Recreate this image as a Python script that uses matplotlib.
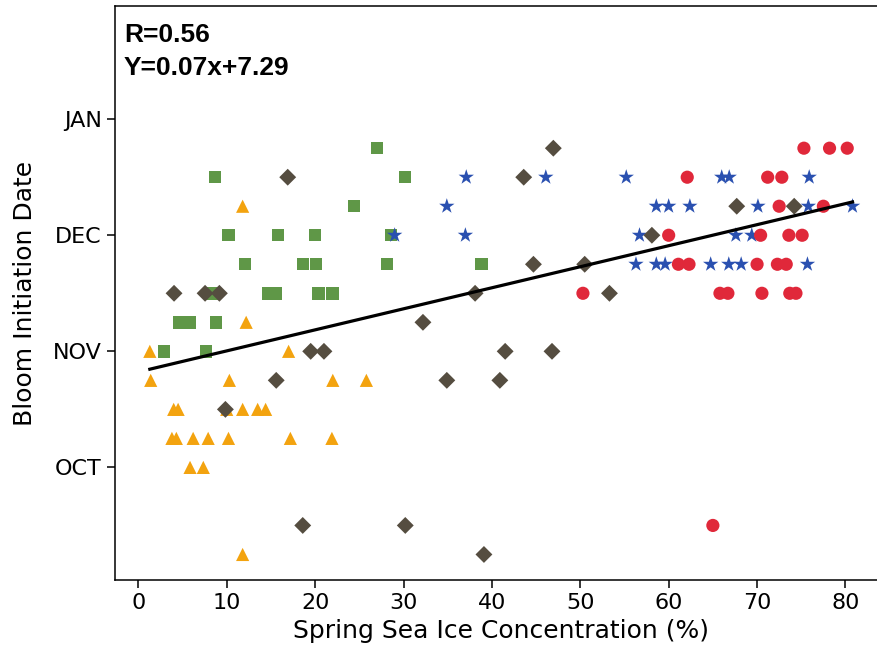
import matplotlib
matplotlib.use("Agg")
import matplotlib.pyplot as plt
import numpy as np

# ---- data (x: spring sea ice %, y: bloom initiation in weeks; NOV=8, DEC=12) ----
tri_x = [11.8, 12.2, 1.3, 17.0, 1.4, 10.3, 22.0, 25.8,
         4.0, 4.5, 10.0, 11.8, 13.5, 14.4,
         3.8, 4.3, 6.2, 7.9, 10.2, 17.2, 21.9,
         5.85, 7.35, 11.8]
tri_y = [13, 9, 8, 8, 7, 7, 7, 7,
         6, 6, 6, 6, 6, 6,
         5, 5, 5, 5, 5, 5, 5,
         4, 4, 1]

sq_x = [27.0, 8.7, 30.2, 24.4,
        10.2, 15.8, 20.0, 28.6,
        12.1, 18.6, 20.1, 28.1, 38.8,
        8.3, 14.75, 15.6, 20.4, 21.95,
        4.64, 5.85, 8.8, 2.9, 7.66]
sq_y = [15, 14, 14, 13,
        12, 12, 12, 12,
        11, 11, 11, 11, 11,
        10, 10, 10, 10, 10,
        9, 9, 9, 8, 8]

star_x = [37.1, 46.1, 55.2, 66.0, 66.85, 75.9,
          34.9, 58.6, 60.0, 62.4, 70.1, 75.8, 80.8,
          29.0, 37.0, 56.7, 67.6, 69.4,
          56.3, 58.6, 59.6, 64.75, 66.8, 68.2, 75.7]
star_y = [14, 14, 14, 14, 14, 14,
          13, 13, 13, 13, 13, 13, 13,
          12, 12, 12, 12, 12,
          11, 11, 11, 11, 11, 11, 11]

circ_x = [75.3, 78.2, 80.2, 62.1, 71.2, 72.8, 72.5, 77.5,
          60.0, 70.4, 73.6, 75.1,
          61.1, 62.3, 70.0, 72.3, 73.3,
          50.3, 65.8, 66.7, 70.55, 73.7, 74.4, 65.0]
circ_y = [15, 15, 15, 14, 14, 14, 13, 13,
          12, 12, 12, 12,
          11, 11, 11, 11, 11,
          10, 10, 10, 10, 10, 10, 2]

dia_x = [46.95, 16.9, 43.6, 67.7, 74.2, 58.1, 44.7, 50.5,
         4.04, 7.55, 9.17, 38.1, 53.3, 32.2,
         19.5, 21.0, 41.5, 46.8, 15.6, 34.9, 40.9, 9.85,
         18.6, 30.2, 39.1]
dia_y = [15, 14, 14, 13, 13, 12, 11, 11,
         10, 10, 10, 10, 10, 9,
         8, 8, 8, 8, 7, 7, 7, 6,
         2, 2, 1]

fit_slope = 0.0725
fit_intercept = 7.29
r_text = "R=0.56"
eq_text = "Y=0.07x+7.29"

month_ticks = [4, 8, 12, 16]
month_labels = ["OCT", "NOV", "DEC", "JAN"]
x_ticks = [0, 10, 20, 30, 40, 50, 60, 70, 80]

# ---- figure ----
fig = plt.figure(figsize=(8.77, 6.57), dpi=100)
ax = fig.add_axes([115 / 877, 1 - 580 / 657, (887 - 115) / 877, (580 - 6) / 657])

ax.scatter(tri_x, tri_y, marker="^", s=90, color="#F3A30F", edgecolors="none", zorder=2)
ax.scatter(sq_x, sq_y, marker="s", s=80, color="#5F9747", edgecolors="none", zorder=2)
ax.scatter(star_x, star_y, marker="*", s=135, color="#2A50B0", edgecolors="none", zorder=3)
ax.scatter(circ_x, circ_y, marker="o", s=90, color="#E0283A", edgecolors="none", zorder=3)
ax.scatter(dia_x, dia_y, marker="D", s=74, color="#554D40", edgecolors="none", zorder=4)

all_x = np.array(tri_x + sq_x + star_x + circ_x + dia_x)
lx = np.array([all_x.min(), all_x.max()])
ax.plot(lx, fit_slope * lx + fit_intercept, color="black", lw=2.3, zorder=5)

ax.set_xlim(-2.64, 84.7)
ax.set_ylim(0.12, 19.9)
ax.set_xticks(x_ticks)
ax.set_yticks(month_ticks)
ax.set_yticklabels(month_labels)
ax.tick_params(labelsize=16, length=6, width=1.1, direction="out")
for s in ax.spines.values():
    s.set_linewidth(1.1)
ax.spines["right"].set_visible(False)

ax.set_xlabel("Spring Sea Ice Concentration (%)", fontsize=18, labelpad=4)
ax.set_ylabel("Bloom Initiation Date", fontsize=18)
ax.yaxis.set_label_coords(-0.101, 0.5)

ax.text(0.0117, 0.9378, r_text, transform=ax.transAxes, fontsize=19,
        fontweight="bold", family="Liberation Sans", va="baseline", ha="left")
ax.text(0.0117, 0.8798, eq_text, transform=ax.transAxes, fontsize=19,
        fontweight="bold", family="Liberation Sans", va="baseline", ha="left")

fig.savefig("out.png", dpi=100)
